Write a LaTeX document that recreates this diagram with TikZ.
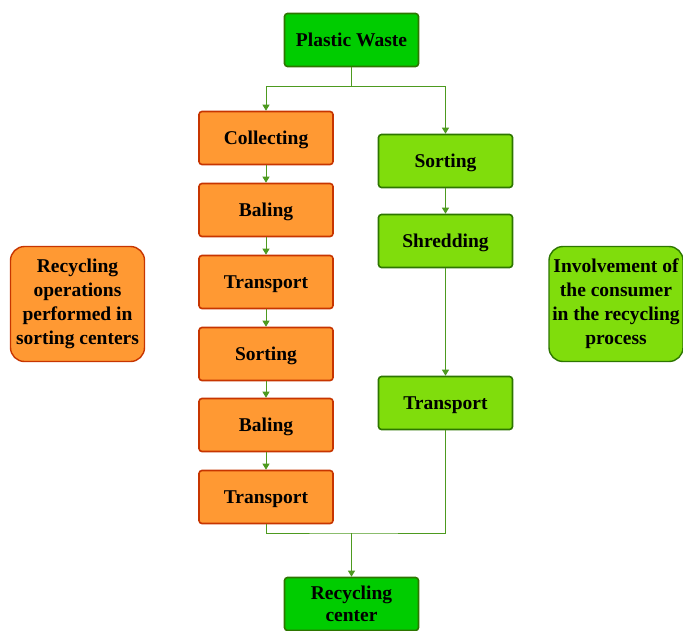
\documentclass[tikz,border=0pt]{standalone}
\usepackage{fontspec}
\setmainfont{Liberation Serif}
\usetikzlibrary{arrows.meta}
\definecolor{dgreen}{HTML}{00CC00}
\definecolor{lgreen}{HTML}{80DD0C}
\definecolor{gborder}{HTML}{2D7600}
\definecolor{orfill}{HTML}{FF9933}
\definecolor{orborder}{HTML}{C73500}
\definecolor{linec}{HTML}{4D9A1F}
\tikzset{
  box/.style={draw, line width=1.6pt, rounded corners=3pt, minimum width=134pt, minimum height=53pt, align=center, font=\fontsize{19.5}{22}\selectfont\bfseries, inner sep=2pt, text depth=0pt},
  gbox/.style={box, fill=dgreen, draw=gborder},
  lbox/.style={box, fill=lgreen, draw=gborder},
  obox/.style={box, fill=orfill, draw=orborder},
  sidebox/.style={draw, line width=1.4pt, rounded corners=14pt, minimum width=134pt, minimum height=115pt, align=center, font=\fontsize{19.5}{24}\selectfont\bfseries, inner sep=1pt},
  conn/.style={draw=linec, line width=0.9pt},
  arr/.style={conn, -{Triangle[length=6pt,width=7pt]}}
}
\begin{document}
\begin{tikzpicture}[x=1pt,y=-1pt]
\useasboundingbox (0,0) rectangle (683,630);
\node[gbox] (pw) at (351.5,40) {Plastic Waste};
\node[obox] (o1) at (266,138) {Collecting};
\node[obox] (o2) at (266,210) {Baling};
\node[obox] (o3) at (266,282) {Transport};
\node[obox] (o4) at (266,354) {Sorting};
\node[obox] (o5) at (266,425) {Baling};
\node[obox] (o6) at (266,497) {Transport};
\node[lbox] (g1) at (445.5,161) {Sorting};
\node[lbox] (g2) at (445.5,241) {Shredding};
\node[lbox] (g3) at (445.5,403) {Transport};
\node[gbox] (rc) at (351.5,604) {Recycling\\center};
\node[sidebox, fill=orfill, draw=orborder] (sl) at (77.5,304) {Recycling\\operations\\performed in\\sorting centers};
\node[sidebox, fill=lgreen, draw=gborder] (sr) at (616,304) {Involvement of\\the consumer\\in the recycling\\process};
\coordinate (split) at (351.5,86);
\coordinate (merge) at (351.5,533);
\draw[conn] (pw.south) -- (split);
\draw[arr] (split) -| (o1.north);
\draw[arr] (split) -| (g1.north);
\draw[arr] (o1) -- (o2);
\draw[arr] (o2) -- (o3);
\draw[arr] (o3) -- (o4);
\draw[arr] (o4) -- (o5);
\draw[arr] (o5) -- (o6);
\draw[arr] (g1) -- (g2);
\draw[arr] (g2) -- (g3);
\draw[conn] (o6.south) |- (merge) -| (g3.south);
\draw[arr] (merge) -- (rc.north);
\end{tikzpicture}
\end{document}
